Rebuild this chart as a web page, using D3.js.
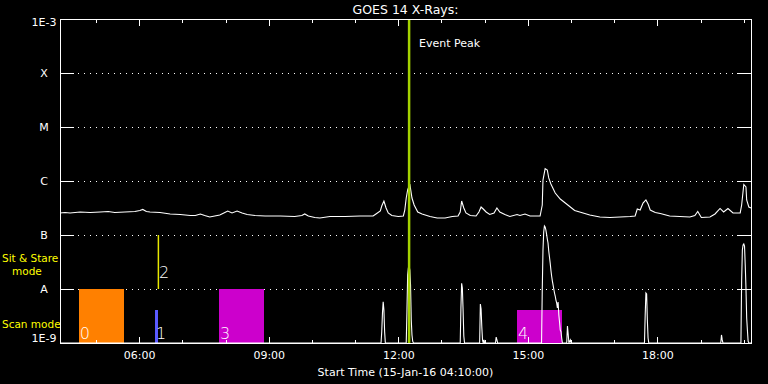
<!DOCTYPE html>
<html><head><meta charset="utf-8">
<script src="https://cdn.jsdelivr.net/npm/d3@7"></script>
<style>
html,body{margin:0;padding:0;background:#000;}
svg{display:block;background:#000;color:#fff;}
text{font-family:"DejaVu Sans",sans-serif;fill:#fff;}
</style></head>
<body>
<svg id="chart" width="768" height="384"></svg>
<script>
// ---------- data ----------
const title = "GOES 14 X-Rays:";
const xTitle = "Start Time (15-Jan-16 04:10:00)";
const startTime = "04:10", endTime = "20:10";
const yLevels = [1e-9, 1e-8, 1e-7, 1e-6, 1e-5, 1e-4, 1e-3];
const yLabels = ["1E-9", "A", "B", "C", "M", "X", "1E-3"];

const longTimes = ["04:10","04:17","04:24","04:38","04:52","05:06","05:17","05:26","05:40","05:54","06:01","06:05","06:10","06:15","06:29","06:43","06:57","07:11","07:18","07:25","07:31","07:38","07:52","07:59","08:03","08:09","08:16","08:23","08:30","08:41","08:55","09:16","09:36","09:46","09:50","09:55","10:04","10:11","10:25","10:46","11:07","11:25","11:29","11:35","11:37","11:40","11:43","11:46","11:51","12:00","12:07","12:09","12:11","12:13","12:16","12:19","12:22","12:27","12:33","12:44","12:54","13:05","13:15","13:23","13:26","13:28","13:31","13:34","13:40","13:48","13:52","13:55","13:58","14:02","14:07","14:13","14:17","14:21","14:28","14:35","14:45","14:49","14:56","15:03","15:17","15:20","15:21","15:24","15:27","15:29","15:32","15:38","15:45","15:52","15:59","16:05","16:12","16:26","16:40","16:54","17:08","17:22","17:29","17:32","17:36","17:40","17:44","17:47","17:50","17:57","18:04","18:17","18:31","18:45","18:52","18:56","19:01","19:13","19:20","19:27","19:32","19:38","19:45","19:55","19:57","20:00","20:03","20:04","20:07","20:10"];
const longFlux = [2.56e-7,2.61e-7,2.56e-7,2.67e-7,2.61e-7,2.67e-7,2.72e-7,2.61e-7,2.67e-7,2.72e-7,2.84e-7,2.97e-7,2.72e-7,2.67e-7,2.61e-7,2.45e-7,2.40e-7,2.30e-7,2.30e-7,2.45e-7,2.30e-7,2.15e-7,2.35e-7,2.61e-7,2.78e-7,2.56e-7,2.78e-7,2.56e-7,2.40e-7,2.30e-7,2.25e-7,2.25e-7,2.20e-7,2.30e-7,2.45e-7,2.25e-7,2.11e-7,2.06e-7,2.20e-7,2.20e-7,2.25e-7,2.25e-7,2.45e-7,2.78e-7,3.44e-7,4.26e-7,3.16e-7,2.56e-7,2.30e-7,2.20e-7,2.25e-7,2.90e-7,4.84e-7,6.81e-7,8.80e-7,4.84e-7,3.59e-7,2.67e-7,2.45e-7,2.20e-7,2.06e-7,2.06e-7,2.20e-7,2.25e-7,2.67e-7,4.26e-7,3.16e-7,2.56e-7,2.30e-7,2.25e-7,2.67e-7,3.30e-7,3.03e-7,2.67e-7,2.40e-7,2.56e-7,3.16e-7,2.67e-7,2.40e-7,2.20e-7,2.40e-7,2.30e-7,2.45e-7,2.25e-7,2.25e-7,3.59e-7,1.04e-6,1.70e-6,1.60e-6,1.14e-6,8.80e-7,5.99e-7,4.64e-7,3.91e-7,3.30e-7,2.84e-7,2.67e-7,2.35e-7,2.15e-7,2.11e-7,2.15e-7,2.20e-7,2.25e-7,3.03e-7,2.90e-7,3.91e-7,4.45e-7,3.75e-7,2.90e-7,2.61e-7,2.50e-7,2.25e-7,2.20e-7,2.15e-7,2.30e-7,2.72e-7,2.11e-7,2.15e-7,2.45e-7,3.10e-7,2.67e-7,3.10e-7,2.56e-7,2.56e-7,3.59e-7,8.61e-7,7.74e-7,4.45e-7,3.30e-7,3.16e-7];

const shortTimes = ["04:10","11:36","11:37","11:38","11:39","11:40","11:41","11:42","12:11","12:12","12:13","12:14","12:15","12:16","12:17","12:18","12:19","12:20","12:21","13:26","13:27","13:28","13:29","13:30","13:31","13:32","13:53","13:54","13:55","13:56","13:57","13:58","13:59","14:00","14:15","14:16","14:17","14:18","15:19","15:20","15:21","15:22","15:23","15:24","15:25","15:26","15:27","15:28","15:29","15:30","15:31","15:32","15:33","15:34","15:35","15:36","15:37","15:38","15:39","15:40","15:41","15:42","15:43","15:44","15:45","15:46","15:47","15:48","15:54","15:55","15:56","15:57","15:59","16:00","17:42","17:43","17:44","17:45","17:46","17:47","17:48","19:28","19:29","19:30","19:31","19:56","19:57","19:58","19:59","20:00","20:01","20:02","20:03","20:04","20:05","20:06","20:07","20:10"];
const shortFlux = [1e-9,1e-9,1.62e-9,3.59e-9,5.82e-9,4.08e-9,1.62e-9,1e-9,1e-9,3.80e-9,1.82e-8,2.45e-8,2.67e-8,2.25e-8,1.19e-8,2.67e-9,1.41e-9,1.08e-9,1e-9,1e-9,4.45e-9,1.28e-8,1.04e-8,4.08e-9,1.35e-9,1e-9,1e-9,5.27e-9,4.26e-9,2.00e-9,1.14e-9,1e-9,1.14e-9,1e-9,1e-9,1.29e-9,1.14e-9,1e-9,1e-9,9.58e-9,5.27e-8,1.14e-7,1.47e-7,1.41e-7,1.24e-7,1.04e-7,8.43e-8,7.11e-8,5.06e-8,3.92e-8,3.03e-8,2.25e-8,1.74e-8,1.41e-8,1.19e-8,1.0e-8,8.43e-9,7.42e-9,6.25e-9,5.51e-9,4.45e-9,5.74e-9,3.30e-9,2.45e-9,1.74e-9,1.62e-9,1.24e-9,1e-9,1e-9,2.06e-9,1.47e-9,1e-9,1.14e-9,1e-9,1e-9,3.30e-9,8.43e-9,8.08e-9,2.67e-9,1.24e-9,1e-9,1e-9,1.41e-9,1.14e-9,1e-9,1e-9,1.47e-8,5.27e-8,6.53e-8,6.81e-8,6.25e-8,2.78e-8,1.04e-8,2.90e-9,1.74e-9,1.08e-9,1e-9,1e-9];

const obsLabels = ["0", "1", "2", "3", "4"];
const obsStart  = ["04:36", "06:22", "06:26", "07:51", "14:45"];
const obsEnd    = ["05:39", "06:26", "06:26", "08:53", "15:47"];
const obsLow    = [1e-9, 1e-9, 1e-8, 1e-9, 1e-9];
const obsHigh   = [1e-8, 4e-9, 1e-7, 1e-8, 4e-9];
const obsMode   = ["scan", "scan", "sit", "scan", "scan"];
const obsColors = ["#ff8000", "#5a5aff", "#e8e800", "#cc00cc", "#cc00cc"];

const eventPeakTime = "12:15";
const eventLabel = "Event Peak";
const modeLabels = [["Sit & Stare", "mode"], ["Scan mode"]];

// ---------- setup ----------
const parse = s => d3.utcParse("%Y-%m-%d %H:%M")("2016-01-15 " + s);
const L = 60, R = 751, T = 19, B = 343;
const svg = d3.select("#chart");
const x = d3.scaleUtc().domain([parse(startTime), parse(endTime)]).range([L, R]);
const y = d3.scaleLog().domain([1e-9, 1e-3]).range([B, T]).clamp(true);

svg.append("defs").append("clipPath").attr("id", "clip")
  .append("rect").attr("x", L).attr("y", T).attr("width", R - L + 1).attr("height", B - T + 1);

// dotted gridlines
svg.append("g").selectAll("line").data(yLevels.slice(1, -1)).join("line")
  .attr("x1", L).attr("x2", R)
  .attr("y1", d => Math.round(y(d)) + 0.5).attr("y2", d => Math.round(y(d)) + 0.5)
  .attr("stroke", "#fff").attr("stroke-width", 1).attr("stroke-dasharray", "1 5")
  .attr("shape-rendering", "crispEdges");

// observation blocks
const plot = svg.append("g").attr("clip-path", "url(#clip)");
const obs = obsLabels.map((l, i) => ({l, s: parse(obsStart[i]), e: parse(obsEnd[i]), lo: obsLow[i], hi: obsHigh[i], m: obsMode[i], c: obsColors[i]}));
obs.forEach(o => {
  const x0 = x(o.s), x1 = x(o.e);
  if (x1 - x0 < 0.5) {
    plot.append("line").attr("x1", x0 + 0.5).attr("x2", x0 + 0.5)
      .attr("y1", y(o.lo)).attr("y2", y(o.hi))
      .attr("stroke", o.c).attr("stroke-width", 1.5);
  } else {
    plot.append("rect").attr("x", x0).attr("width", x1 - x0)
      .attr("y", y(o.hi)).attr("height", y(o.lo) - y(o.hi))
      .attr("fill", o.c).attr("shape-rendering", "crispEdges");
  }
});

// curves
const line = d3.line().x(d => x(d.t)).y(d => y(d.v));
const longData = longTimes.map((t, i) => ({t: parse(t), v: longFlux[i]}));
const shortData = shortTimes.map((t, i) => ({t: parse(t), v: shortFlux[i]}));
[longData, shortData].forEach(dat => {
  plot.append("path").datum(dat).attr("d", line)
    .attr("fill", "none").attr("stroke", "#fff").attr("stroke-width", 1.1)
    .attr("stroke-linejoin", "miter");
});

// event peak line (drawn over the curves)
const ex = x(parse(eventPeakTime));
svg.append("line").attr("x1", ex).attr("x2", ex).attr("y1", T).attr("y2", B)
  .attr("stroke", "#a4d200").attr("stroke-width", 2.5);

// observation labels
obs.forEach(o => {
  const by = o.m === "scan" ? y(o.lo) - 4 : y(o.lo) - 11;
  svg.append("text").attr("x", x(o.s) + 1).attr("y", by)
    .attr("font-size", 16).attr("font-weight", 300).text(o.l);
});

// frame
svg.append("rect").attr("x", L + 0.5).attr("y", T + 0.5).attr("width", R - L).attr("height", B - T)
  .attr("fill", "none").attr("stroke", "#fff").attr("stroke-width", 1).attr("shape-rendering", "crispEdges");

// axes
const majorTicks = x.ticks(d3.utcHour.every(3));
const minorTicks = x.ticks(d3.utcHour.every(1));
function styleAxis(g) {
  g.attr("color", "#fff");
  g.select(".domain").remove();
  g.selectAll("line").attr("stroke", "#fff").attr("shape-rendering", "crispEdges");
  g.selectAll("text").attr("fill", "#fff").style("fill", "#fff")
    .attr("font-family", "DejaVu Sans, sans-serif").attr("font-size", 11);
}
svg.append("g").attr("transform", `translate(0,${B})`)
  .call(d3.axisBottom(x).tickValues(minorTicks).tickSize(-3).tickFormat(""))
  .call(styleAxis);
svg.append("g").attr("transform", `translate(0,${B})`)
  .call(d3.axisBottom(x).tickValues(majorTicks).tickSize(-6).tickPadding(8).tickFormat(d3.utcFormat("%H:%M")))
  .call(styleAxis);
svg.append("g").attr("transform", `translate(0,${T})`)
  .call(d3.axisTop(x).tickValues(minorTicks).tickSize(-4).tickFormat(""))
  .call(styleAxis);
svg.append("g").attr("transform", `translate(0,${T})`)
  .call(d3.axisTop(x).tickValues(majorTicks).tickSize(-7).tickFormat(""))
  .call(styleAxis);

const yl = svg.append("g").attr("transform", `translate(${L},0)`)
  .call(d3.axisLeft(y).tickValues(yLevels).tickSize(-14).tickFormat((d, i) => yLabels[i]))
  .call(styleAxis);
yl.selectAll("text").attr("text-anchor", "middle").attr("x", -16)
  .attr("dy", (d, i) => i === 0 ? "-0.1em" : (i === yLevels.length - 1 ? "0.62em" : "0.32em"));
svg.append("g").attr("transform", `translate(${R},0)`)
  .call(d3.axisRight(y).tickValues(yLevels).tickSize(-14).tickFormat(""))
  .call(styleAxis);

// titles
svg.append("text").attr("x", (L + R) / 2).attr("y", 14).attr("text-anchor", "middle")
  .attr("font-size", 12.5).text(title);
svg.append("text").attr("x", (L + R) / 2).attr("y", 376).attr("text-anchor", "middle")
  .attr("font-size", 11).text(xTitle);
svg.append("text").attr("x", ex + 10).attr("y", 47).attr("font-size", 11).text(eventLabel);

// mode labels (yellow)
svg.append("text").attr("x", 2).attr("y", 262).attr("font-size", 10.5).style("fill", "#ffff00").text(modeLabels[0][0]);
svg.append("text").attr("x", 12).attr("y", 275).attr("font-size", 10.5).style("fill", "#ffff00").text(modeLabels[0][1]);
svg.append("text").attr("x", 2).attr("y", 328).attr("font-size", 10.5).style("fill", "#ffff00").text(modeLabels[1][0]);
</script>
</body></html>
